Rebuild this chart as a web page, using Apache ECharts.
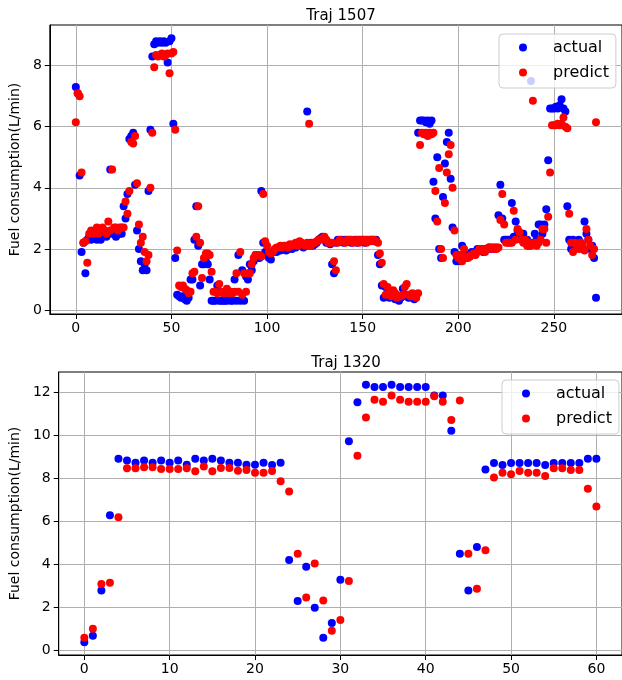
<!DOCTYPE html>
<html>
<head>
<meta charset="utf-8">
<script src="https://cdn.jsdelivr.net/npm/echarts@6/dist/echarts.min.js"></script>
<style>
  html, body { margin: 0; padding: 0; background: #ffffff; }
  #chart { width: 622px; height: 680px; }
</style>
</head>
<body>
<div id="chart"></div>
<script>
// Trajectory 1507: measured vs. predicted fuel consumption per time step
const ACTUAL_1507 = [
  7.3, 7.1, 4.4, 1.9, 2.2, 1.2, 2.3, 2.4, 2.3, 2.5,
  2.4, 2.3, 2.4, 2.3, 2.4, 2.5, 2.4, 2.5, 4.6, 2.5,
  2.5, 2.4, 2.5, 2.5, 2.5, 3.4, 3.0, 3.8, 5.6, 5.7,
  5.8, 4.1, 2.6, 2.0, 1.6, 1.3, 1.5, 1.3, 3.9, 5.9,
  8.3, 8.7, 8.8, 8.75, 8.8, 8.75, 8.8, 8.75, 8.1, 8.8,
  8.9, 6.1, 1.7, 0.5, 0.45, 0.4, 0.45, 0.35, 0.3, 0.4,
  1.0, 1.0, 2.3, 3.4, 2.1, 0.8, 1.5, 1.5, 1.6, 1.5,
  1.0, 0.3, 0.3, 0.3, 0.8, 0.3, 0.3, 0.3, 0.3, 0.3,
  0.35, 0.3, 0.3, 1.0, 0.3, 1.8, 0.3, 1.3, 0.3, 1.1,
  1.0, 1.5, 1.3, 1.6, 1.8, 1.7, 1.7, 3.9, 2.2, 1.9,
  1.8, 1.7, 1.65, 1.9, 1.95, 1.9, 2.0, 1.95, 2.0, 2.0,
  1.95, 2.0, 2.05, 2.0, 2.1, 2.05, 2.15, 2.2, 2.1, 2.05,
  2.1, 6.5, 2.1, 2.2, 2.1, 2.15, 2.2, 2.3, 2.35, 2.4,
  2.35, 2.2, 2.2, 2.15, 1.5, 1.2, 2.2, 2.3, 2.25, 2.3,
  2.2, 2.3, 2.25, 2.3, 2.2, 2.25, 2.3, 2.2, 2.3, 2.25,
  2.3, 2.2, 2.3, 2.25, 2.3, 2.3, 2.25, 2.3, 1.8, 1.5,
  0.8, 0.4, 0.75, 0.5, 0.4, 0.6, 0.5, 0.35, 0.4, 0.3,
  0.4, 0.7, 0.5, 0.45, 0.4, 0.5, 0.4, 0.35, 0.5, 5.8,
  6.2, 6.2, 6.2, 6.15, 6.2, 6.1, 6.2, 4.2, 3.0, 5.0,
  2.0, 1.7, 3.7, 4.8, 5.5, 5.8, 4.3, 2.7, 1.9, 1.6,
  1.8, 1.6, 2.1, 1.75, 1.7, 1.8, 1.75, 1.9, 1.85, 1.9,
  2.0, 1.95, 2.0, 1.9, 2.0, 2.0, 2.05, 2.0, 2.05, 2.0,
  2.05, 3.1, 4.1, 3.0, 2.3, 2.3, 2.3, 2.3, 3.5, 2.4,
  2.9, 2.6, 2.4, 2.3, 2.5, 2.2, 2.3, 2.1, 7.5, 2.2,
  2.5, 2.3, 2.8, 2.8, 2.5, 2.8, 3.3, 4.9, 6.6, 6.6,
  6.6, 6.65, 6.6, 6.7, 6.9, 6.6, 6.5, 3.4, 2.3, 2.0,
  2.3, 2.2, 2.1, 2.3, 2.2, 2.0, 2.9, 2.5, 2.3, 2.0,
  2.1, 1.7, 0.4
];
const PREDICT_1507 = [
  6.15, 7.1, 7.0, 4.5, 2.2, 2.25, 1.55, 2.5, 2.6, 2.5,
  2.6, 2.7, 2.5, 2.6, 2.7, 2.6, 2.5, 2.9, 2.6, 4.6,
  2.7, 2.7, 2.6, 2.7, 2.7, 2.7, 3.55, 3.15, 3.9, 5.5,
  5.45, 5.7, 4.15, 2.8, 2.2, 2.4, 1.9, 1.6, 1.8, 4.0,
  5.8, 7.95, 8.35, 8.3, 8.35, 8.4, 8.3, 8.35, 8.4, 7.75,
  8.4, 8.45, 5.9, 1.95, 0.8, 0.75, 0.8, 0.7, 0.65, 0.55,
  0.6, 1.2, 1.25, 2.4, 3.4, 2.2, 1.05, 1.7, 1.85, 1.85,
  1.8, 1.25, 0.6, 0.6, 0.55, 0.85, 0.6, 0.55, 0.6, 0.7,
  0.55, 0.6, 0.55, 0.6, 1.2, 0.6, 1.9, 0.5, 1.2, 0.6,
  1.2, 1.2, 1.5, 1.7, 1.8, 1.8, 1.8, 1.75, 3.8, 2.25,
  2.1, 1.9, 1.85, 1.9, 2.0, 2.05, 2.05, 2.1, 2.05, 2.1,
  2.1, 2.05, 2.15, 2.1, 2.15, 2.2, 2.1, 2.25, 2.2, 2.15,
  2.1, 2.2, 6.1, 2.1, 2.2, 2.2, 2.25, 2.3, 2.3, 2.35,
  2.4, 2.3, 2.2, 2.2, 2.2, 1.6, 1.3, 2.2, 2.3, 2.25,
  2.25, 2.2, 2.3, 2.25, 2.3, 2.2, 2.25, 2.3, 2.2, 2.3,
  2.25, 2.3, 2.2, 2.3, 2.25, 2.3, 2.3, 2.25, 2.2, 1.85,
  1.55, 0.85, 0.5, 0.75, 0.55, 0.45, 0.65, 0.55, 0.4, 0.45,
  0.45, 0.5, 0.75, 0.85, 0.5, 0.45, 0.55, 0.45, 0.4, 0.55,
  5.4, 5.8, 5.75, 5.8, 5.7, 5.8, 5.75, 5.8, 3.9, 2.9,
  4.65, 2.0, 1.7, 3.5, 4.5, 5.1, 5.4, 4.0, 2.6, 1.8,
  1.7, 1.8, 1.6, 2.0, 1.75, 1.7, 1.75, 1.8, 1.85, 1.8,
  1.9, 2.0, 1.95, 2.0, 1.9, 2.0, 2.05, 2.05, 2.0, 2.05,
  2.0, 2.05, 2.95, 3.8, 2.8, 2.2, 2.2, 2.2, 2.2, 3.25,
  2.3, 2.65, 2.55, 2.3, 2.2, 2.3, 2.1, 2.2, 2.1, 6.85,
  2.2, 2.1, 2.2, 2.3, 2.65, 2.65, 2.2, 3.05, 4.5, 6.05,
  6.05, 6.05, 6.1, 6.05, 6.1, 6.3, 6.0, 5.95, 3.15, 2.2,
  1.9, 2.2, 2.1, 2.0, 2.2, 2.1, 1.95, 2.65, 2.3, 2.1,
  1.8, 2.0, 6.15
];

// Trajectory 1320
const ACTUAL_1320 = [
  0.4, 0.7, 2.8, 6.3, 8.93, 8.84, 8.74, 8.84, 8.74, 8.84,
  8.74, 8.84, 8.65, 8.93, 8.84, 8.93, 8.84, 8.74, 8.74, 8.65,
  8.65, 8.74, 8.64, 8.74, 4.22, 2.31, 3.91, 2.0, 0.6, 1.29,
  3.3, 9.74, 11.55, 12.36, 12.26, 12.26, 12.36, 12.26, 12.26, 12.26,
  12.26, 11.86, 11.86, 10.23, 4.51, 2.8, 4.82, 8.43, 8.73, 8.64,
  8.73, 8.73, 8.73, 8.73, 8.64, 8.73, 8.73, 8.73, 8.73, 8.93,
  8.93
];
const PREDICT_1320 = [
  0.6, 1.02, 3.1, 3.16, 6.2, 8.48, 8.48, 8.53, 8.53, 8.45,
  8.45, 8.45, 8.48, 8.34, 8.56, 8.34, 8.5, 8.5, 8.37, 8.4,
  8.28, 8.28, 8.36, 7.88, 7.4, 4.51, 2.47, 4.06, 2.33, 0.93,
  1.43, 3.24, 9.07, 10.84, 11.67, 11.58, 11.86, 11.67, 11.58, 11.58,
  11.58, 11.83, 11.58, 10.73, 11.63, 4.51, 2.88, 4.67, 8.05, 8.28,
  8.2, 8.36, 8.28, 8.28, 8.12, 8.48, 8.48, 8.4, 8.4, 7.53,
  6.7
];

const TITLES = ['Traj 1507', 'Traj 1320'];
const Y_NAME = 'Fuel consumption(L/min)';
const SERIES_NAMES = ['actual', 'predict'];
const TICKS_X_1507 = [0, 50, 100, 150, 200, 250];
const TICKS_Y_1507 = [0, 2, 4, 6, 8];
const TICKS_X_1320 = [0, 10, 20, 30, 40, 50, 60];
const TICKS_Y_1320 = [0, 2, 4, 6, 8, 10, 12];

const FONT = 'DejaVu Sans';
const BLUE = '#0000ff';
const RED = '#ff0000';

function pairs(arr) { return arr.map((v, i) => [i, v]); }

// axis limits padded by 5% of the data span on each side
function padded(lo, hi) { const m = (hi - lo) * 0.05; return [lo - m, hi + m]; }

function limitsY(a, b) {
  const all = a.concat(b);
  return padded(Math.min(...all), Math.max(...all));
}

const xr0 = padded(0, ACTUAL_1507.length - 1);
const yr0 = limitsY(ACTUAL_1507, PREDICT_1507);
const xr1 = padded(0, ACTUAL_1320.length - 1);
const yr1 = limitsY(ACTUAL_1320, PREDICT_1320);

function xAxisDef(gridIndex, range, ticks) {
  return {
    type: 'value', gridIndex, min: range[0], max: range[1],
    axisLine: { show: true, onZero: false, lineStyle: { color: '#000', width: 1 } },
    axisTick: { show: true, length: 5, customValues: ticks, lineStyle: { color: '#000' } },
    axisLabel: { customValues: ticks, color: '#000', fontFamily: FONT, fontSize: 14, margin: 7 },
    splitLine: { show: true, lineStyle: { color: '#b0b0b0', width: 1 } }
  };
}
function yAxisDef(gridIndex, range, ticks, gap) {
  return {
    type: 'value', gridIndex, min: range[0], max: range[1],
    name: Y_NAME, nameLocation: 'middle', nameGap: gap,
    nameTextStyle: { color: '#000', fontFamily: FONT, fontSize: 14 },
    axisLine: { show: true, onZero: false, lineStyle: { color: '#000', width: 1 } },
    axisTick: { show: true, length: 5, customValues: ticks, lineStyle: { color: '#000' } },
    axisLabel: { customValues: ticks, color: '#000', fontFamily: FONT, fontSize: 14, margin: 8 },
    splitLine: { show: true, lineStyle: { color: '#b0b0b0', width: 1 } }
  };
}
function legendDef(left, top) {
  return {
    data: SERIES_NAMES, orient: 'vertical', left, top,
    icon: 'circle', itemWidth: 8, itemHeight: 8, itemGap: 8,
    padding: [5, 7, 7, 20],
    backgroundColor: 'rgba(255,255,255,0.8)', borderColor: '#cccccc', borderWidth: 1, borderRadius: 4,
    textStyle: { color: '#000', fontFamily: FONT, fontSize: 16, lineHeight: 17, padding: [0, 0, 0, 21] },
    selectedMode: false
  };
}
function scatter(name, xi, data, color) {
  return {
    type: 'scatter', name, xAxisIndex: xi, yAxisIndex: xi, data: pairs(data),
    symbol: 'circle', symbolSize: 8, itemStyle: { color, opacity: 1 },
    emphasis: { disabled: true }
  };
}

const chart = echarts.init(document.getElementById('chart'), null, { renderer: 'canvas' });
chart.setOption({
  animation: false,
  backgroundColor: '#ffffff',
  title: [
    { text: TITLES[0], left: 336, top: 4, textAlign: 'center',
      textStyle: { color: '#000', fontFamily: FONT, fontSize: 15, fontWeight: 'normal' } },
    { text: TITLES[1], left: 341, top: 351, textAlign: 'center',
      textStyle: { color: '#000', fontFamily: FONT, fontSize: 15, fontWeight: 'normal' } }
  ],
  grid: [
    { left: 47, top: 25, width: 578, height: 289, show: true, borderColor: '#000', borderWidth: 1, containLabel: false },
    { left: 56, top: 372, width: 570, height: 283, show: true, borderColor: '#000', borderWidth: 1, containLabel: false }
  ],
  xAxis: [xAxisDef(0, xr0, TICKS_X_1507), xAxisDef(1, xr1, TICKS_X_1320)],
  yAxis: [yAxisDef(0, yr0, TICKS_Y_1507, 24), yAxisDef(1, yr1, TICKS_Y_1320, 33)],
  legend: [legendDef(499, 34), legendDef(502, 380)],
  series: [
    scatter(SERIES_NAMES[0], 0, ACTUAL_1507, BLUE),
    scatter(SERIES_NAMES[1], 0, PREDICT_1507, RED),
    scatter(SERIES_NAMES[0], 1, ACTUAL_1320, BLUE),
    scatter(SERIES_NAMES[1], 1, PREDICT_1320, RED)
  ]
});
</script>
</body>
</html>
